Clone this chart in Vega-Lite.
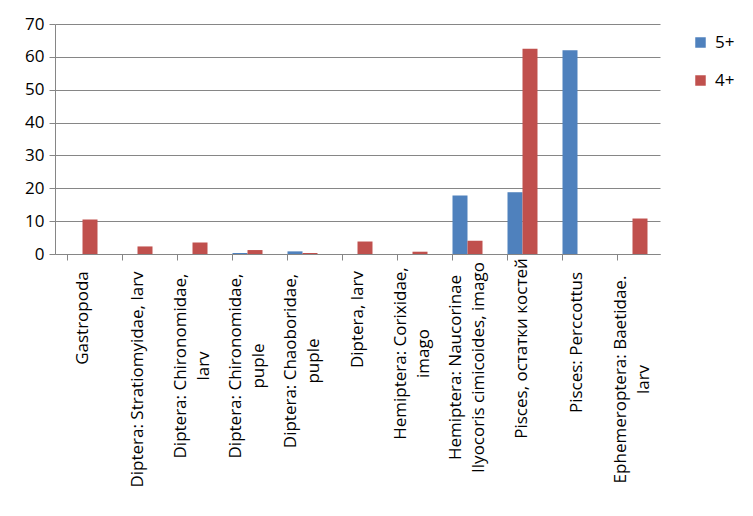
{
  "$schema": "https://vega.github.io/schema/vega-lite/v6.json",
  "width": 605,
  "height": 230,
  "autosize": "none",
  "padding": {"left": 55, "top": 24, "right": 93, "bottom": 262},
  "background": "white",
  "config": {
    "view": {"stroke": null},
    "font": "Open Sans",
    "axis": {"labelFont": "Open Sans", "labelColor": "#000000", "domainColor": "#868686", "tickColor": "#868686", "gridColor": "#868686"}
  },
  "data": {
    "values": [
      {"cat": "Gastropoda", "series": "5+", "value": 0},
      {"cat": "Gastropoda", "series": "4+", "value": 10.5},
      {"cat": "Diptera: Stratiomyidae, larv", "series": "5+", "value": 0},
      {"cat": "Diptera: Stratiomyidae, larv", "series": "4+", "value": 2.3},
      {"cat": "Diptera: Chironomidae,\nlarv", "series": "5+", "value": 0},
      {"cat": "Diptera: Chironomidae,\nlarv", "series": "4+", "value": 3.5},
      {"cat": "Diptera: Chironomidae,\npuple", "series": "5+", "value": 0.3},
      {"cat": "Diptera: Chironomidae,\npuple", "series": "4+", "value": 1.2},
      {"cat": "Diptera: Chaoboridae,\npuple", "series": "5+", "value": 0.8},
      {"cat": "Diptera: Chaoboridae,\npuple", "series": "4+", "value": 0.3},
      {"cat": "Diptera, larv", "series": "5+", "value": 0},
      {"cat": "Diptera, larv", "series": "4+", "value": 3.8},
      {"cat": "Hemiptera: Corixidae,\nimago", "series": "5+", "value": 0},
      {"cat": "Hemiptera: Corixidae,\nimago", "series": "4+", "value": 0.7},
      {"cat": "Hemiptera: Naucorinae\nIlyocoris cimicoides, imago", "series": "5+", "value": 17.8},
      {"cat": "Hemiptera: Naucorinae\nIlyocoris cimicoides, imago", "series": "4+", "value": 4.0},
      {"cat": "Pisces, остатки костей", "series": "5+", "value": 18.8},
      {"cat": "Pisces, остатки костей", "series": "4+", "value": 62.5},
      {"cat": "Pisces: Perccottus", "series": "5+", "value": 62},
      {"cat": "Pisces: Perccottus", "series": "4+", "value": 0},
      {"cat": "Ephemeroptera: Baetidae.\nlarv", "series": "5+", "value": 0},
      {"cat": "Ephemeroptera: Baetidae.\nlarv", "series": "4+", "value": 10.8}
    ]
  },
  "resolve": {"axis": {"x": "independent"}},
  "layer": [
    {
      "mark": {"type": "bar"},
      "encoding": {
        "x": {
          "field": "cat", "type": "nominal", "sort": null,
          "scale": {"paddingInner": 0.4545, "paddingOuter": 0.2273},
          "axis": {
            "title": null, "orient": "bottom", "labelAngle": -90, "labelAlign": "center", "labelBaseline": "middle", "ticks": false,
            "labelFontSize": 17, "labelLineHeight": 23, "labelLimit": 0, "labelOverlap": false,
            "labelExpr": "split(datum.label, '\\n')", "domain": true,
            "labelOffset": {"condition": {"test": "indexof(datum.value, '\\n') >= 0", "value": -11.5}, "value": 0},
            "labelPadding": {
              "condition": [
                {"test": "datum.value === 'Gastropoda'", "value": 63.5},
                {"test": "datum.value === 'Diptera: Stratiomyidae, larv'", "value": 125},
                {"test": "datum.value === 'Diptera: Chironomidae,\\nlarv'", "value": 111.5},
                {"test": "datum.value === 'Diptera: Chironomidae,\\npuple'", "value": 111.5},
                {"test": "datum.value === 'Diptera: Chaoboridae,\\npuple'", "value": 106.5},
                {"test": "datum.value === 'Diptera, larv'", "value": 65},
                {"test": "datum.value === 'Hemiptera: Corixidae,\\nimago'", "value": 99},
                {"test": "datum.value === 'Hemiptera: Naucorinae\\nIlyocoris cimicoides, imago'", "value": 113},
                {"test": "datum.value === 'Pisces, остатки костей'", "value": 94},
                {"test": "datum.value === 'Pisces: Perccottus'", "value": 88}
              ],
              "value": 125
            }
          }
        },
        "xOffset": {"field": "series", "type": "nominal", "sort": ["5+", "4+"]},
        "y": {
          "field": "value", "type": "quantitative",
          "scale": {"domain": [0, 70]},
          "axis": {"title": null, "values": [0, 10, 20, 30, 40, 50, 60, 70], "labelFontSize": 17, "tickSize": 6, "labelPadding": 5, "domain": true}
        },
        "color": {
          "field": "series", "type": "nominal",
          "scale": {"domain": ["5+", "4+"], "range": ["#4F81BD", "#C0504D"]},
          "legend": {"title": null, "orient": "none", "legendX": 637, "legendY": 10, "symbolType": "square", "symbolSize": 110, "labelFontSize": 17, "rowPadding": 20, "symbolStrokeWidth": 0, "labelFont": "Open Sans", "labelOffset": 6}
        }
      }
    },
    {
      "mark": {"type": "tick", "opacity": 0},
      "encoding": {
        "x": {
          "field": "cat", "type": "nominal", "sort": null,
          "axis": {"title": null, "orient": "bottom", "labels": false, "domain": false, "grid": false, "ticks": true, "tickSize": 6, "bandPosition": 0}
        }
      }
    }
  ]
}
